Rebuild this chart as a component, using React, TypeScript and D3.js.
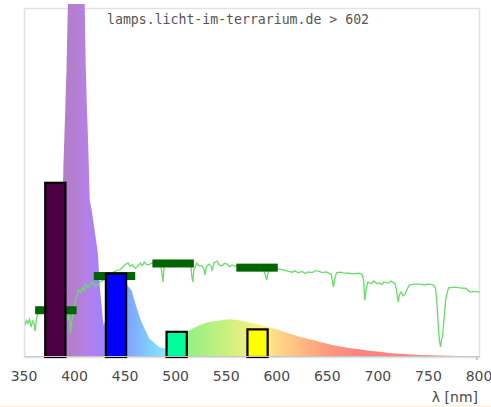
import { area, line, scaleLinear, curveLinear } from "d3";

// lamp spectrum, [wavelength nm, relative intensity]
const lampSpectrum: [number, number][] = [
  [380, 0], [383, 5], [386, 30], [388, 55], [389.5, 68], [391, 82], [392.5, 102],
  [395, 112], [400, 118], [405, 114], [409, 102], [410, 84], [411.3, 71], [412.6, 60],
  [414, 45], [416, 42], [419, 36], [422, 30], [424, 20], [426, 14], [427, 10.6],
  [428, 9], [430, 11], [435, 20], [440, 23], [445, 22], [450, 21], [455.5, 19],
  [459, 15.5], [463.7, 11.2], [468.7, 7.8], [473, 5.3], [478, 4.0], [483, 2.8],
  [488, 2.4], [492, 2.6], [500, 3.5], [505, 5.5], [508, 6.8], [515, 8.0], [523, 9.2],
  [530, 9.9], [540, 10.4], [552, 10.8], [560, 10.6], [569, 10.1], [580, 9.4],
  [589, 8.7], [602, 7.7], [610, 6.9], [619, 6.0], [627, 5.4], [635, 4.9], [642, 4.3],
  [648, 3.9], [655, 3.4], [662, 3.0], [670, 2.6], [681, 2.2], [690, 1.8], [701, 1.5],
  [712, 1.1], [724, 0.86], [740, 0.57], [760, 0.4], [780, 0.3], [800, 0.2],
];

// daylight reference curve
const daylight: [number, number][] = [
  [350, 9.2], [351.5, 10.4], [353, 9.6], [354.5, 10.8], [356, 8.6], [357.5, 10.3],
  [359, 9.5], [360, 7.4], [361.5, 11.2], [363, 12.6], [365, 14.3], [367, 12.9],
  [370, 13.5], [375, 12.4], [380, 13.8], [385, 12.0], [390, 12.8], [392, 11.6],
  [393, 10.6], [394, 12.5], [395, 6.9], [396, 9.8], [397, 11.2], [398.5, 13.8],
  [400, 16.3], [401.5, 17.5], [403, 19.2], [405, 18.6], [407, 19.8], [408.5, 19.0],
  [410, 20.9], [412, 20.0], [414, 20.3], [416, 21.4], [418, 21.2], [420, 20.2],
  [422, 20.6], [424, 21.5], [426, 21.8], [430, 22.3], [438, 24.5], [444, 25.0],
  [447, 25.8], [449, 26.5], [452, 26.9], [454, 26.0], [456, 26.4], [459, 25.4],
  [461, 25.8], [464, 26.9], [466, 26.2], [468, 27.2], [470, 26.5], [472, 26.4],
  [476, 27.0], [480, 26.5], [484, 26.8], [485.5, 24.0], [486.5, 21.5], [487.5, 25.5],
  [490, 26.9], [495, 27.1], [500, 27.4], [505, 27.0], [510, 26.9], [514, 26.5],
  [515, 23.0], [516, 21.5], [517, 25.0], [519, 26.3], [520, 26.9], [522, 26.1],
  [525, 26.1], [527, 25.2], [528, 23.5], [529.5, 26.0], [532, 26.6], [534, 26.0],
  [535, 24.9], [537, 27.0], [540, 27.5], [542, 26.4], [545, 26.1], [547, 26.8],
  [550, 26.6], [552, 25.9], [555, 26.4], [558, 26.0], [565, 26.2], [575, 25.6],
  [585, 25.3], [587, 24.2], [589, 22.1], [591, 24.8], [596, 25.3], [602, 25.2],
  [606, 24.9], [610, 24.6], [614, 24.3], [617, 24.7], [620, 24.1], [624, 24.5],
  [627, 23.9], [630, 24.4], [634, 24.2], [637, 24.7], [640, 24.6], [644, 24.2],
  [648, 24.4], [650, 24.1], [653, 23.6], [655, 20.1], [656.5, 22.5], [658, 24.1],
  [662, 24.3], [665, 24.1], [670, 24.0], [675, 23.8], [680, 24.0], [683, 23.8],
  [685, 22.0], [686, 16.3], [687.5, 19.5], [689, 21.5], [692, 21.0], [695, 21.8],
  [698, 21.0], [700, 21.2], [703, 20.8], [705, 21.5], [709, 21.2], [712, 21.8],
  [716, 21.0], [717.5, 19.0], [719, 15.8], [720.5, 18.0], [722, 18.6], [724, 17.5],
  [726, 18.1], [728, 19.5], [730, 20.6], [735, 20.9], [740, 20.9], [745, 20.7],
  [750, 20.9], [754, 20.6], [756, 19.8], [757.5, 15.0], [759, 7.7], [760, 4.5],
  [761, 2.9], [762, 5.0], [763, 6.3], [764.5, 11.0], [766, 16.3], [768, 19.0],
  [769, 19.8], [775, 20.0], [780, 19.8], [785, 19.7], [787, 19.5], [789, 18.9],
  [790, 18.6], [795, 18.8], [800, 18.6],
];

// coloured band bars, [from, to, value, fill]
const bandBars: [number, number, number, string][] = [
  [370, 390, 50.2, "#4b0046"],
  [430, 450, 24.2, "#0000ff"],
  [490, 510, 7.5, "#00ff9c"],
  [570, 590, 8.2, "#ffff00"],
];

// daylight band averages, [from, to, value]
const daylightBands: [number, number, number][] = [
  [360, 401, 13.4],
  [418, 459, 23.2],
  [476, 517, 26.8],
  [559, 600, 25.6],
];

const xTicks = [350, 400, 450, 500, 550, 600, 650, 700, 750, 800];

// wavelength -> colour for the spectrum fill
const colourStops: [number, string][] = [
  [380, "#b27cc4"], [400, "#b57fd2"], [412, "#b480ea"], [428, "#9c84ff"],
  [450, "#80a0ff"], [470, "#80c8ff"], [488, "#84e8ff"], [505, "#90f090"],
  [520, "#a0f080"], [545, "#c4f080"], [565, "#e4f080"], [585, "#fff080"],
  [600, "#ffd888"], [625, "#ffb880"], [650, "#ff9880"], [680, "#ff8480"],
  [800, "#ff8080"],
];

const App = () => {
  const width = 491;
  const height = 407;
  const x = scaleLinear().domain([350, 800]).range([25, 480]);
  const y = scaleLinear().domain([0, 100]).range([357, 8]);

  const specArea = area<[number, number]>()
    .x((d) => x(d[0]))
    .y0(y(0))
    .y1((d) => y(d[1]))
    .curve(curveLinear);

  const dayLine = line<[number, number]>()
    .x((d) => x(d[0]))
    .y((d) => y(d[1]));

  const g0 = x(380);
  const g1 = x(800);

  return (
    <svg
      width={width}
      height={height}
      style={{ position: "absolute", left: 0, top: 0, background: "#fff" }}
    >
      <defs>
        <linearGradient id="spec" gradientUnits="userSpaceOnUse" x1={g0} x2={g1} y1={0} y2={0}>
          {colourStops.map(([wl, c]) => (
            <stop key={wl} offset={(x(wl) - g0) / (g1 - g0)} stopColor={c} />
          ))}
        </linearGradient>
        <clipPath id="plotClip">
          <rect x={0} y={4} width={width} height={height} />
        </clipPath>
      </defs>

      <rect x={0} y={405} width={width} height={2} fill="#fdf3e2" />

      {/* frame */}
      <rect
        x={x(350) - 0.5}
        y={y(100) + 0.5}
        width={x(800) - x(350)}
        height={y(0) - y(100)}
        fill="none"
        stroke="#e2e2e2"
        strokeWidth={1.5}
      />

      <path d={specArea(lampSpectrum) ?? ""} fill="url(#spec)" clipPath="url(#plotClip)" />

      <path d={dayLine(daylight) ?? ""} fill="none" stroke="#66dd66" strokeWidth={1.3} />

      {daylightBands.map(([a, b, v]) => (
        <rect key={`d-${a}`} x={x(a)} y={y(v) - 4} width={x(b) - x(a)} height={8} fill="#006400" />
      ))}

      {bandBars.map(([a, b, v, c]) => (
        <rect
          key={`b-${a}`}
          x={x(a)}
          y={y(v) + 1}
          width={x(b) - x(a)}
          height={y(0) - y(v) - 1}
          fill={c}
          stroke="#000"
          strokeWidth={2.2}
        />
      ))}

      <line x1={x(350)} x2={x(800)} y1={y(0) - 0.5} y2={y(0) - 0.5} stroke="#c8c8c8" strokeWidth={1} />
      <line x1={x(800) - 3} x2={x(800) - 3} y1={y(0)} y2={y(0) + 3} stroke="#999" strokeWidth={1} />

      <text
        x={107}
        y={24}
        fontFamily="'DejaVu Sans Mono', monospace"
        fontSize={13.2}
        fill="#555"
      >
        lamps.licht-im-terrarium.de &gt; 602
      </text>

      {xTicks.map((t) => (
        <text
          key={t}
          x={x(t) - 1}
          y={380.5}
          textAnchor="middle"
          fontFamily="'DejaVu Sans', sans-serif"
          fontSize={14}
          fill="#4a4a4a"
        >
          {t}
        </text>
      ))}

      <text
        x={478}
        y={402}
        textAnchor="end"
        fontFamily="'DejaVu Sans', sans-serif"
        fontSize={14}
        fill="#4a4a4a"
      >
        λ [nm]
      </text>
    </svg>
  );
};

export default App;
